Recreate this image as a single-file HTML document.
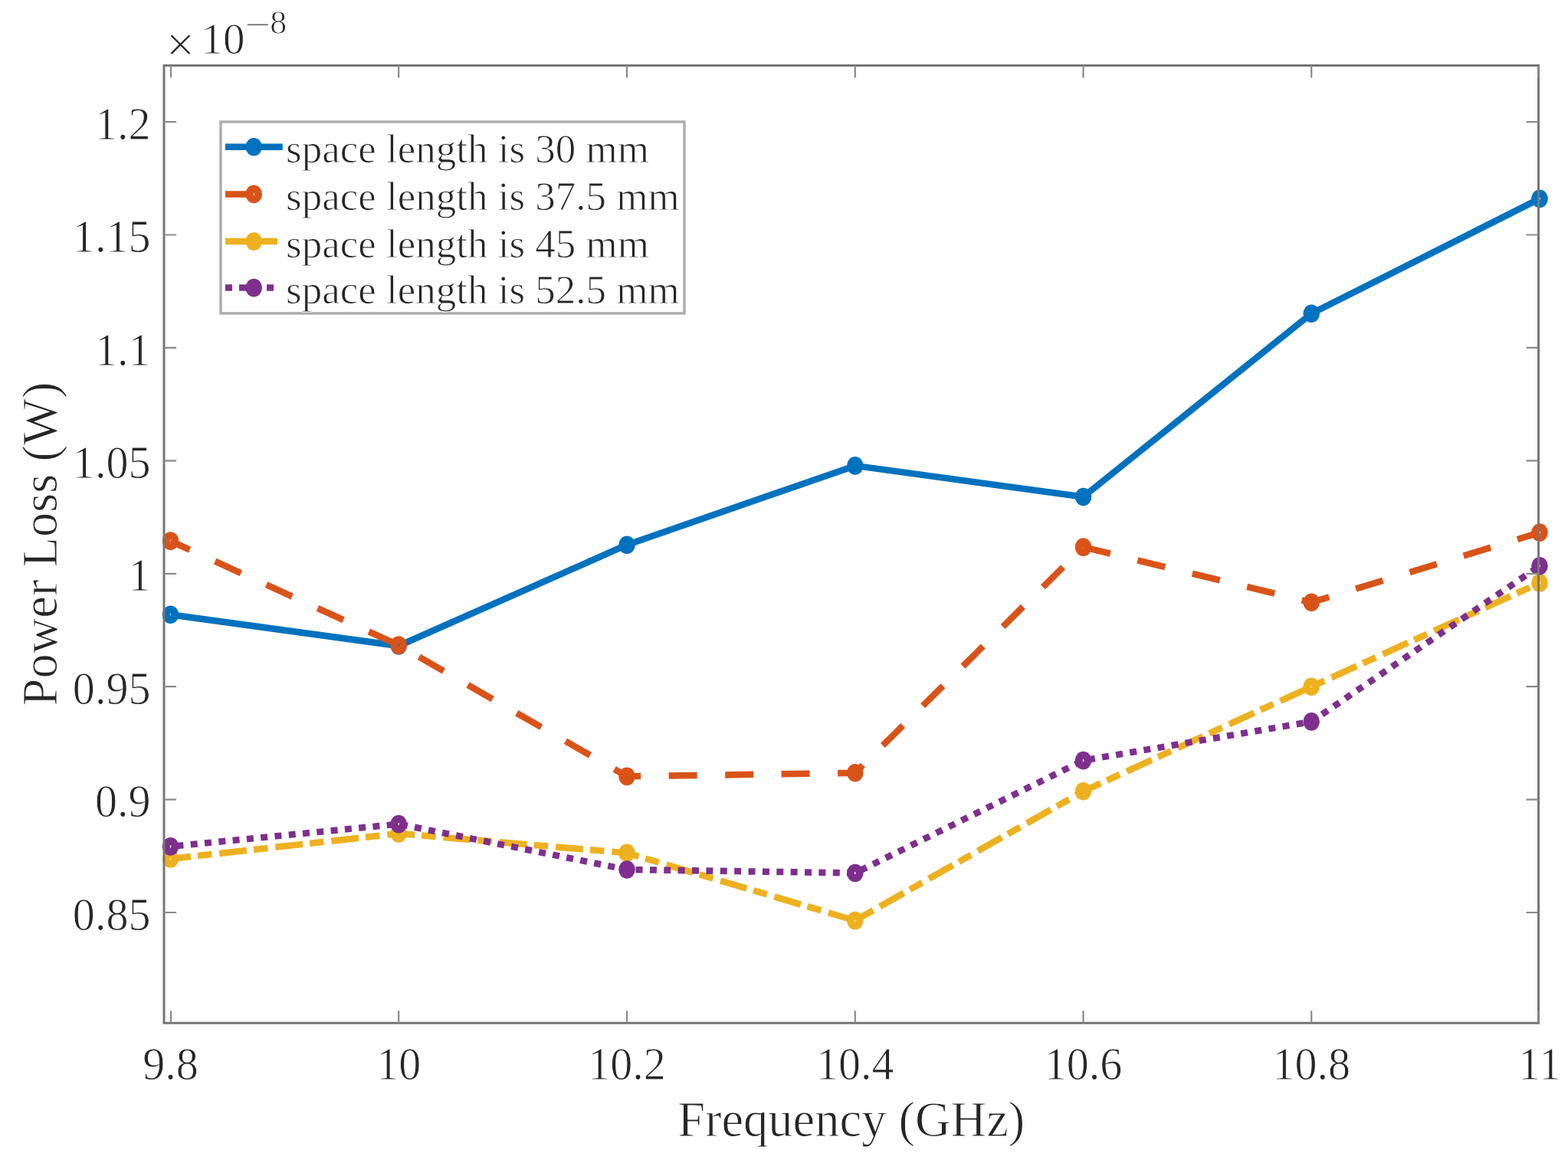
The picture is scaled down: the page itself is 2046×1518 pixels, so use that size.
<!DOCTYPE html>
<html><head><meta charset="utf-8"><title>Power Loss vs Frequency</title>
<style>
html,body{margin:0;padding:0;background:#fff;}
body{width:2046px;height:1518px;overflow:hidden;}
svg{display:block;}
text{font-family:"Liberation Serif","Times New Roman",serif;fill:#262626;stroke:#fff;stroke-width:0.9px;}
</style></head><body>
<svg width="2046" height="1518" viewBox="0 0 2046 1518">
<rect x="0" y="0" width="2046" height="1518" fill="#fff"/>

<g fill="none" stroke-width="8.5" stroke-linejoin="round">
<polyline points="222.5,802.3 520.2,843.0 818.0,711.2 1115.8,607.9 1413.5,648.5 1711.2,409.3 2009.0,259.4" stroke="#0072bd"/>
<polyline points="222.5,706.1 520.2,842.1 818.0,1013.4 1115.8,1008.8 1413.5,714.1 1711.2,786.3 2009.0,695.1" stroke="#d95319" stroke-dasharray="37 36.5" stroke-dashoffset="9.5"/>
<polyline points="222.5,1121.0 520.2,1088.0 818.0,1113.3 1115.8,1201.6 1413.5,1032.8 1711.2,896.2 2009.0,760.9" stroke="#edb120" stroke-dasharray="36 9 18.5 10" stroke-dashoffset="9.4"/>
<polyline points="222.5,1104.9 520.2,1075.6 818.0,1135.0 1115.8,1139.5 1413.5,992.6 1711.2,941.9 2009.0,738.8" stroke="#7e2f8e" stroke-dasharray="9 9.375" stroke-dashoffset="10.4"/>
</g>
<g>
<ellipse cx="222.5" cy="802.3" rx="5.8" ry="6.8" fill="none" stroke="#0072bd" stroke-width="10"/>
<ellipse cx="520.2" cy="843.0" rx="5.8" ry="6.8" fill="none" stroke="#0072bd" stroke-width="10"/>
<ellipse cx="818.0" cy="711.2" rx="5.8" ry="6.8" fill="none" stroke="#0072bd" stroke-width="10"/>
<ellipse cx="1115.8" cy="607.9" rx="5.8" ry="6.8" fill="none" stroke="#0072bd" stroke-width="10"/>
<ellipse cx="1413.5" cy="648.5" rx="5.8" ry="6.8" fill="none" stroke="#0072bd" stroke-width="10"/>
<ellipse cx="1711.2" cy="409.3" rx="5.8" ry="6.8" fill="none" stroke="#0072bd" stroke-width="10"/>
<ellipse cx="2009.0" cy="259.4" rx="5.8" ry="6.8" fill="none" stroke="#0072bd" stroke-width="10"/>
<ellipse cx="222.5" cy="706.1" rx="5.8" ry="6.8" fill="none" stroke="#d95319" stroke-width="10"/>
<ellipse cx="520.2" cy="842.1" rx="5.8" ry="6.8" fill="none" stroke="#d95319" stroke-width="10"/>
<ellipse cx="818.0" cy="1013.4" rx="5.8" ry="6.8" fill="none" stroke="#d95319" stroke-width="10"/>
<ellipse cx="1115.8" cy="1008.8" rx="5.8" ry="6.8" fill="none" stroke="#d95319" stroke-width="10"/>
<ellipse cx="1413.5" cy="714.1" rx="5.8" ry="6.8" fill="none" stroke="#d95319" stroke-width="10"/>
<ellipse cx="1711.2" cy="786.3" rx="5.8" ry="6.8" fill="none" stroke="#d95319" stroke-width="10"/>
<ellipse cx="2009.0" cy="695.1" rx="5.8" ry="6.8" fill="none" stroke="#d95319" stroke-width="10"/>
<ellipse cx="222.5" cy="1121.0" rx="5.8" ry="6.8" fill="none" stroke="#edb120" stroke-width="10"/>
<ellipse cx="520.2" cy="1088.0" rx="5.8" ry="6.8" fill="none" stroke="#edb120" stroke-width="10"/>
<ellipse cx="818.0" cy="1113.3" rx="5.8" ry="6.8" fill="none" stroke="#edb120" stroke-width="10"/>
<ellipse cx="1115.8" cy="1201.6" rx="5.8" ry="6.8" fill="none" stroke="#edb120" stroke-width="10"/>
<ellipse cx="1413.5" cy="1032.8" rx="5.8" ry="6.8" fill="none" stroke="#edb120" stroke-width="10"/>
<ellipse cx="1711.2" cy="896.2" rx="5.8" ry="6.8" fill="none" stroke="#edb120" stroke-width="10"/>
<ellipse cx="2009.0" cy="760.9" rx="5.8" ry="6.8" fill="none" stroke="#edb120" stroke-width="10"/>
<ellipse cx="222.5" cy="1104.9" rx="5.8" ry="6.8" fill="none" stroke="#7e2f8e" stroke-width="10"/>
<ellipse cx="520.2" cy="1075.6" rx="5.8" ry="6.8" fill="none" stroke="#7e2f8e" stroke-width="10"/>
<ellipse cx="818.0" cy="1135.0" rx="5.8" ry="6.8" fill="none" stroke="#7e2f8e" stroke-width="10"/>
<ellipse cx="1115.8" cy="1139.5" rx="5.8" ry="6.8" fill="none" stroke="#7e2f8e" stroke-width="10"/>
<ellipse cx="1413.5" cy="992.6" rx="5.8" ry="6.8" fill="none" stroke="#7e2f8e" stroke-width="10"/>
<ellipse cx="1711.2" cy="941.9" rx="5.8" ry="6.8" fill="none" stroke="#7e2f8e" stroke-width="10"/>
<ellipse cx="2009.0" cy="738.8" rx="5.8" ry="6.8" fill="none" stroke="#7e2f8e" stroke-width="10"/>
</g>
<rect x="214" y="85.5" width="1793.5" height="1249.8" fill="none" stroke="#767676" stroke-width="3"/>
<path d="M223.0 1335.3V1319.3M223.0 85.5V101.5M520.2 1335.3V1319.3M520.2 85.5V101.5M818.0 1335.3V1319.3M818.0 85.5V101.5M1115.8 1335.3V1319.3M1115.8 85.5V101.5M1413.5 1335.3V1319.3M1413.5 85.5V101.5M1711.2 1335.3V1319.3M1711.2 85.5V101.5M2007.5 1335.3V1319.3M2007.5 85.5V101.5M214 1191.0H230M2007.5 1191.0H1991.5M214 1043.6H230M2007.5 1043.6H1991.5M214 896.2H230M2007.5 896.2H1991.5M214 748.8H230M2007.5 748.8H1991.5M214 601.3H230M2007.5 601.3H1991.5M214 453.9H230M2007.5 453.9H1991.5M214 306.5H230M2007.5 306.5H1991.5M214 159.1H230M2007.5 159.1H1991.5" stroke="#8a8a8a" stroke-width="2.2" fill="none"/>
<g font-size="60.5" text-anchor="middle">
<text transform="translate(222.5,1408.6) scale(0.96,1)">9.8</text>
<text transform="translate(520.2,1408.6) scale(0.96,1)">10</text>
<text transform="translate(818.0,1408.6) scale(0.96,1)">10.2</text>
<text transform="translate(1115.8,1408.6) scale(0.96,1)">10.4</text>
<text transform="translate(1413.5,1408.6) scale(0.96,1)">10.6</text>
<text transform="translate(1711.2,1408.6) scale(0.96,1)">10.8</text>
<text transform="translate(2009.0,1408.6) scale(0.96,1)">11</text>
</g>
<g font-size="60.5" text-anchor="end">
<text transform="translate(196.5,1213.6) scale(0.96,1)">0.85</text>
<text transform="translate(196.5,1066.2) scale(0.96,1)">0.9</text>
<text transform="translate(196.5,918.8) scale(0.96,1)">0.95</text>
<text transform="translate(196.5,771.4) scale(0.96,1)">1</text>
<text transform="translate(196.5,623.9) scale(0.96,1)">1.05</text>
<text transform="translate(196.5,476.5) scale(0.96,1)">1.1</text>
<text transform="translate(196.5,329.1) scale(0.96,1)">1.15</text>
<text transform="translate(196.5,181.7) scale(0.96,1)">1.2</text>
</g>
<text x="216.7" y="80.4" font-size="66">×</text>
<text x="262.5" y="70" font-size="57">10</text>
<text transform="translate(319.3,46.7) scale(1.38,1)" font-size="44">−</text>
<text x="352.2" y="44.3" font-size="44">8</text>
<text x="1110.7" y="1483.3" font-size="64.5" text-anchor="middle">Frequency (GHz)</text>
<text transform="translate(73.8,710) rotate(-90)" font-size="64.5" text-anchor="middle">Power Loss (W)</text>
<rect x="288" y="159" width="605" height="250" fill="#fff" stroke="#acacac" stroke-width="3.4"/>
<line x1="294" y1="191.8" x2="368.8" y2="191.8" stroke="#0072bd" stroke-width="8.5"/>
<ellipse cx="331.2" cy="191.8" rx="5.8" ry="6.8" fill="none" stroke="#0072bd" stroke-width="10"/>
<text x="373" y="212.4" font-size="53">space length is 30 mm</text>
<line x1="294" y1="253.4" x2="340" y2="253.4" stroke="#d95319" stroke-width="8.5" stroke-dasharray="37 36"/>
<ellipse cx="331.2" cy="253.4" rx="5.8" ry="6.8" fill="none" stroke="#d95319" stroke-width="10"/>
<text x="373" y="274.0" font-size="53">space length is 37.5 mm</text>
<line x1="294" y1="315.1" x2="362" y2="315.1" stroke="#edb120" stroke-width="8.5"/>
<ellipse cx="331.2" cy="315.1" rx="5.8" ry="6.8" fill="none" stroke="#edb120" stroke-width="10"/>
<text x="373" y="335.7" font-size="53">space length is 45 mm</text>
<line x1="294" y1="375.6" x2="360" y2="375.6" stroke="#7e2f8e" stroke-width="8.5" stroke-dasharray="9 9"/>
<ellipse cx="331.2" cy="375.6" rx="5.8" ry="6.8" fill="none" stroke="#7e2f8e" stroke-width="10"/>
<text x="373" y="396.2" font-size="53">space length is 52.5 mm</text>
</svg>
</body></html>
